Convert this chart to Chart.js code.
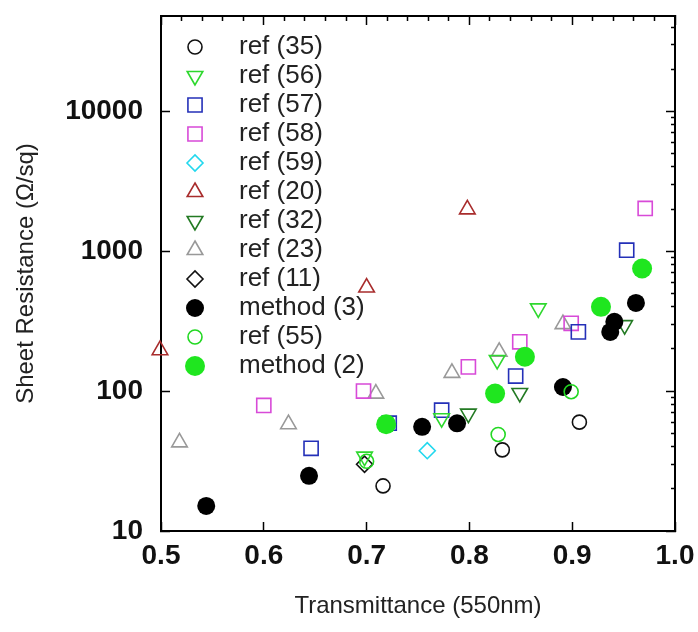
<!DOCTYPE html>
<html>
<head>
<meta charset="utf-8">
<script src="https://cdn.jsdelivr.net/npm/chart.js@4.4.1/dist/chart.umd.min.js"></script>
<style>
  body { margin: 0; background: #fff; }
</style>
</head>
<body>
<canvas id="chart" width="698" height="632"></canvas>
<script>
// transmittance (x) and sheet resistance in ohm/sq (y)
const ref35T = [0.716, 0.832, 0.907];
const ref35R = [21, 38, 60];
const ref56T = [0.698, 0.773, 0.827, 0.867];
const ref56R = [34, 64, 167, 390];
const ref57T = [0.646, 0.722, 0.773, 0.845, 0.906, 0.953];
const ref57R = [39, 59, 73, 128, 265, 1016];
const ref58T = [0.600, 0.697, 0.799, 0.849, 0.899, 0.971];
const ref58R = [79, 100, 149, 225, 305, 2020];
const ref59T = [0.759];
const ref59R = [37.5];
const ref20T = [0.499, 0.700, 0.798];
const ref20R = [196, 550, 1990];
const ref32T = [0.799, 0.849, 0.951];
const ref32R = [69, 97, 296];
const ref23T = [0.518, 0.624, 0.709, 0.783, 0.829, 0.891];
const ref23R = [43, 58, 96, 135, 191, 301];
const ref11T = [0.698];
const ref11R = [30];
const method3T = [0.544, 0.644, 0.754, 0.788, 0.891, 0.937, 0.941, 0.962];
const method3R = [15.1, 24.8, 55.6, 58.8, 107, 265, 313, 427];
const ref55T = [0.700, 0.828, 0.899];
const ref55R = [31.5, 49, 99];
const method2T = [0.719, 0.825, 0.854, 0.928, 0.968];
const method2R = [58, 96, 176, 400, 752];

// axis ticks
const xMin = 0.5, xMax = 1.0;
const yMin = 10, yMax = 48000;
const xLabels = [0.5, 0.6, 0.7, 0.8, 0.9, 1.0];
const yLabels = [10, 100, 1000, 10000];
const xTicks = [];
for (let i = 0; i <= 25; i++) xTicks.push(+(xMin + i * 0.02).toFixed(2));
const yTicks = [];
for (let e = 1; e <= 4; e++) {
  for (let m = 1; m <= 9; m++) {
    if (m * Math.pow(10, e) <= yMax) yTicks.push(m * Math.pow(10, e));
  }
}

const FONT = "'Liberation Sans', Arial, sans-serif";
Chart.defaults.font.family = FONT;

function pts(t, r) {
  return t.map((x, i) => ({ x: x, y: r[i] }));
}

function series(label, t, r, style, color, filled, radius, rotation, order) {
  return {
    label: label,
    data: pts(t, r),
    pointStyle: style,
    pointRadius: radius,
    pointHoverRadius: radius,
    pointRotation: rotation || 0,
    borderColor: color,
    backgroundColor: filled ? color : 'rgba(0,0,0,0)',
    borderWidth: filled ? 0 : 1.6,
    order: order || 0,
    clip: false
  };
}

const datasets = [
  series('ref (35)', ref35T, ref35R, 'circle', '#111111', false, 7),
  series('ref (56)', ref56T, ref56R, 'triangle', '#2ed82e', false, 9, 180),
  series('ref (57)', ref57T, ref57R, 'rect', '#2430b8', false, 10),
  series('ref (58)', ref58T, ref58R, 'rect', '#d84ad8', false, 10),
  series('ref (59)', ref59T, ref59R, 'rectRot', '#22d8ee', false, 8),
  series('ref (20)', ref20T, ref20R, 'triangle', '#a82c2c', false, 9),
  series('ref (32)', ref32T, ref32R, 'triangle', '#237a23', false, 9, 180),
  series('ref (23)', ref23T, ref23R, 'triangle', '#999999', false, 9),
  series('ref (11)', ref11T, ref11R, 'rectRot', '#111111', false, 8),
  series('method (3)', method3T, method3R, 'circle', '#000000', true, 9, 0, -1),
  series('ref (55)', ref55T, ref55R, 'circle', '#22d822', false, 7, 0, -2),
  series('method (2)', method2T, method2R, 'circle', '#1fe61f', true, 10, 0, -2)
];

// legend symbols drawn with the same point renderer as the data
const icons = datasets.map(d => {
  const c = document.createElement('canvas');
  c.width = 26; c.height = 26;
  const g = c.getContext('2d');
  g.strokeStyle = d.borderColor;
  g.fillStyle = d.backgroundColor;
  g.lineWidth = d.borderWidth;
  Chart.helpers.drawPoint(g, {
    pointStyle: d.pointStyle, radius: d.pointRadius,
    rotation: d.pointRotation, borderWidth: d.borderWidth
  }, 13, 13);
  return c;
});

const isXMajor = v => xLabels.some(l => Math.abs(l - v) < 1e-6);
const isDecade = v => yLabels.includes(v);
// minor ticks are the short part of a dashed tick line, majors are solid
const tickDash = (major, fromBorder) => c =>
  (c.tick && major(c.tick.value)) ? [] : (fromBorder ? [5, 50] : [0, 4, 5, 50]);

// fixed box size so the plot frame lands where the original one is
const fixSize = size => s => {
  if (s.isHorizontal()) s.height = size; else s.width = size;
  s.paddingLeft = s.paddingRight = s.paddingTop = s.paddingBottom = 0;
};

function frameAxis(type, position, min, max, ticks, major, fromBorder, size) {
  return {
    type: type,
    position: position,
    min: min,
    max: max,
    afterBuildTicks: a => { a.ticks = ticks.map(v => ({ value: v })); },
    afterFit: fixSize(size),
    border: { color: '#000', width: 2 },
    grid: {
      drawOnChartArea: false,
      tickLength: -9,
      tickColor: '#000',
      tickWidth: 1.5,
      tickBorderDash: tickDash(major, fromBorder)
    },
    ticks: { display: false }
  };
}

const xAxis = frameAxis('linear', 'bottom', xMin, xMax, xTicks, isXMajor, true, 94);
xAxis.ticks = {
  autoSkip: false, maxRotation: 0, padding: 17,
  color: '#111', font: { size: 28, weight: 'bold' },
  callback: v => isXMajor(v) ? v.toFixed(1) : null
};
xAxis.title = {
  display: true, text: 'Transmittance (550nm)', color: '#222',
  font: { size: 24 }, padding: { top: 4, bottom: 4 }
};

const yAxis = frameAxis('logarithmic', 'left', yMin, yMax, yTicks, isDecade, false, 153);
yAxis.ticks = {
  autoSkip: false, padding: 27,
  color: '#111', font: { size: 28, weight: 'bold' },
  callback: v => isDecade(v) ? String(v) : null
};
yAxis.title = {
  display: true, text: 'Sheet Resistance (Ω/sq)', color: '#222',
  font: { size: 24 }, padding: { top: 4, bottom: 4 }
};

new Chart(document.getElementById('chart'), {
  type: 'scatter',
  data: { datasets: datasets },
  options: {
    responsive: false,
    animation: false,
    events: [],
    layout: { padding: { left: 8, top: 16, right: 23, bottom: 7 } },
    scales: {
      x: xAxis,
      y: yAxis,
      x2: frameAxis('linear', 'top', xMin, xMax, xTicks, isXMajor, false, 0),
      y2: frameAxis('logarithmic', 'right', yMin, yMax, yTicks, isDecade, true, 0)
    },
    plugins: {
      tooltip: { enabled: false },
      legend: {
        position: 'chartArea',
        align: 'start',
        // empty title only pushes the first row down
        title: { display: true, text: '', font: { size: 10 }, padding: { top: 9.5, bottom: 9.5 } },
        labels: {
          usePointStyle: true,
          pointStyleWidth: 62,
          padding: 3,
          color: '#222',
          font: { size: 26 },
          sort: (a, b) => a.datasetIndex - b.datasetIndex,
          generateLabels: chart => {
            const items = Chart.defaults.plugins.legend.labels.generateLabels(chart);
            items.forEach(it => {
              it.pointStyle = icons[it.datasetIndex];
              it.rotation = 0;
            });
            return items;
          }
        }
      }
    }
  }
});
</script>
</body>
</html>
